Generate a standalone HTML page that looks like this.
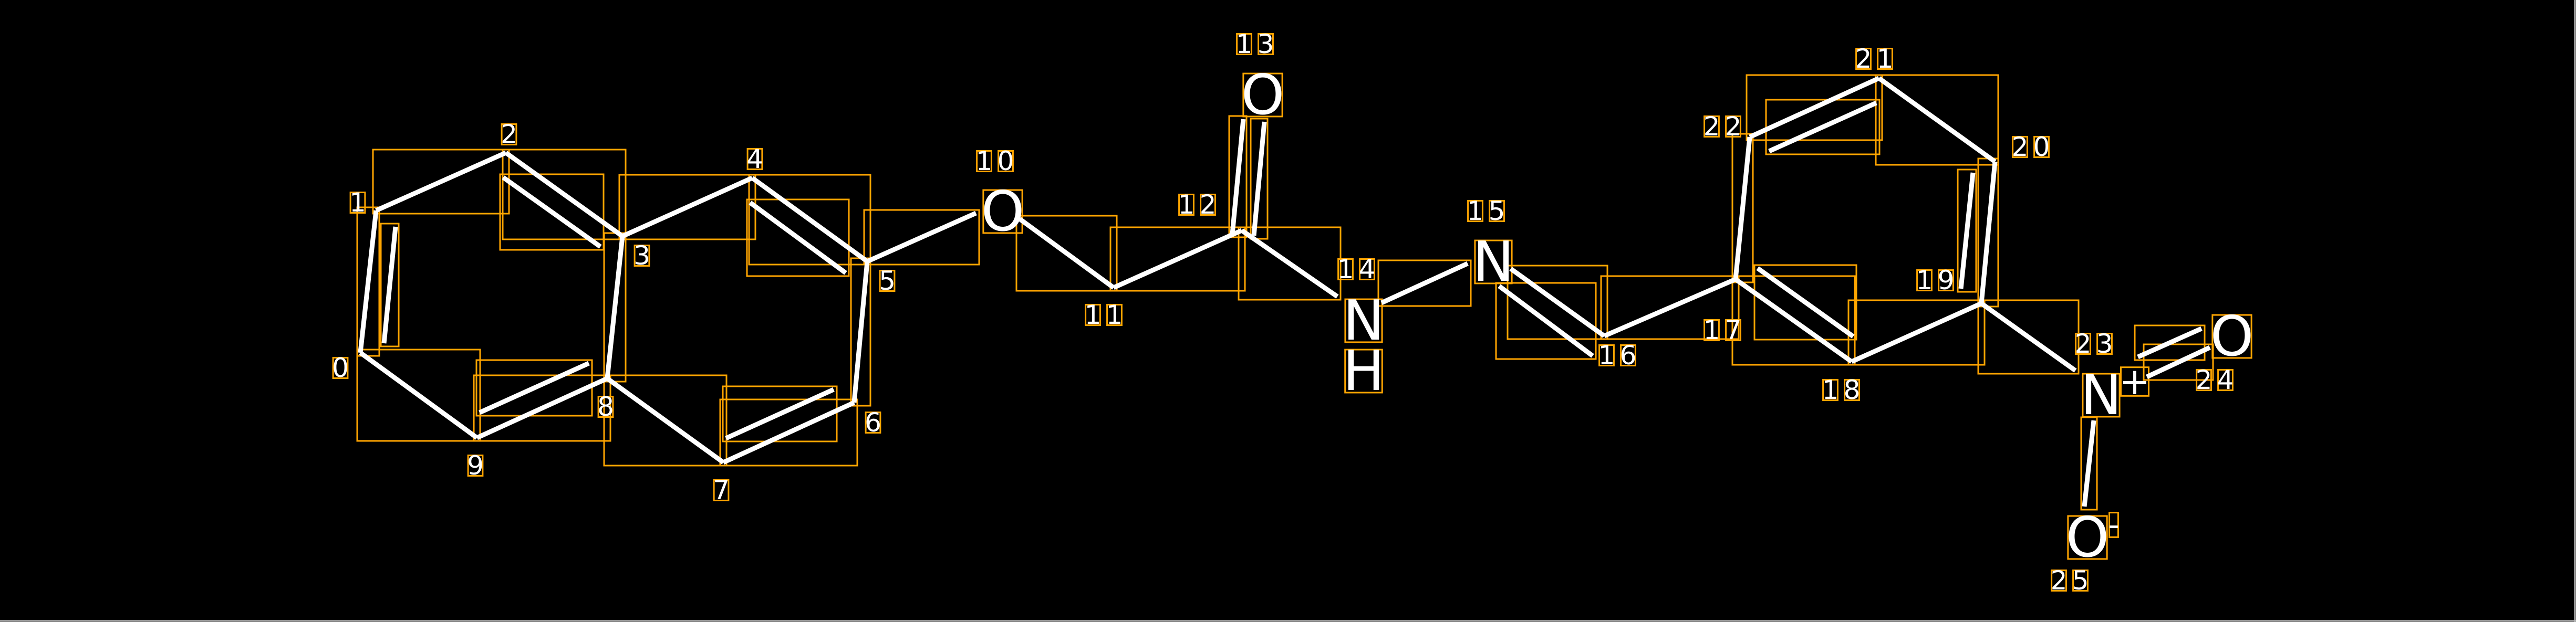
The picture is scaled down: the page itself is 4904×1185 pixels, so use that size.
<!DOCTYPE html>
<html><head><meta charset="utf-8"><style>
html,body{margin:0;padding:0;background:#000;}
svg{display:block;}
</style></head><body>
<svg id="s" width="4904" height="1185" viewBox="0 0 4904 1185" xmlns="http://www.w3.org/2000/svg">
<rect width="4904" height="1185" fill="#000"/>
<line x1="4902" y1="0" x2="4902" y2="1185" stroke="#bbb" stroke-width="3"/>
<line x1="0" y1="1183" x2="4904" y2="1183" stroke="#bbb" stroke-width="3"/>
<g id="boxes" fill="none" stroke="#FFA500" stroke-width="3"></g>
<g id="bonds" stroke="#fff" stroke-width="9" stroke-linecap="butt"></g>
<g id="labels" fill="#fff" font-family="DejaVu Sans, Liberation Sans, sans-serif"></g>
</svg>
<script>
var NS="http://www.w3.org/2000/svg";
var B=document.getElementById('bonds'),X=document.getElementById('boxes'),L=document.getElementById('labels');
var bonds=[
[686,672,716,401],[753,432,731,654],
[716,401,963,291],[963,291,1185,450],[958,338,1143,470],
[1185,450,1156,721],[1156,721,908,834],[1121,692,913,786],[908,834,686,672],
[1185,450,1432,339],[1432,339,1651,498],[1428,386,1610,520],
[1651,498,1626,767],[1626,767,1377,881],[1587,742,1382,835],[1377,881,1156,721],
[1651,498,1858,406],[1941,417,2120,548],[2120,548,2364,439],
[2367,227,2346,446],[2407,232,2387,449],
[2364,439,2546,565],[2630,577,2794,502],
[2876,512,3054,640],[2854,545,3032,678],
[3054,640,3304,532],
[3304,532,3331,261],[3331,261,3577,149],[3572,196,3368,288],
[3577,149,3798,308],[3798,308,3772,578],[3756,329,3733,550],
[3772,578,3525,689],[3525,689,3304,532],[3346,511,3528,641],
[3772,578,3951,706],
[4070,680,4191,626],[4087,718,4207,662],
[3986,801,3968,965]
];
bonds.forEach(function(b){
 var l=document.createElementNS(NS,'line');
 l.setAttribute('x1',b[0]);l.setAttribute('y1',b[1]);l.setAttribute('x2',b[2]);l.setAttribute('y2',b[3]);
 B.appendChild(l);
 var p=6,r=document.createElementNS(NS,'rect');
 var x=Math.min(b[0],b[2])-p,y=Math.min(b[1],b[3])-p;
 r.setAttribute('x',x);r.setAttribute('y',y);
 r.setAttribute('width',Math.abs(b[2]-b[0])+2*p);r.setAttribute('height',Math.abs(b[3]-b[1])+2*p);
 X.appendChild(r);
});
// labels: [text, cx, cy, size]
var labs=[
["0",648,701,50],["1",681,386,50],["2",969,256,50],["3",1222,487,50],["4",1437,303,50],
["5",1689,535,50],["6",1662,805,50],["7",1373,934,50],["8",1153,775,50],["9",905,887,50],
["10",1894,307,50],["11",2101,600,50],["12",2279,390,50],["13",2389,84,50],["14",2582,513,50],
["15",2829,402,50],["16",3079,677,50],["17",3279,629,50],["18",3505,743,50],["19",3684,534,50],
["20",3866,280,50],["21",3568,112,50],["22",3279,241,50],["23",3986,655,50],["24",4216,724,50],["25",3940,1106,50],
["O",1909,403,105],["O",2404,181,105],["N",2596,611,105],["H",2596,707,105],["N",2843,499,105],
["N",4000,753,105],["O",4249,641,105],["O",3974,1024,105],["+",4064,727,70],["-",4024,1000,60]
];
labs.forEach(function(t){
 var chars=t[0].split(''),sz=t[3],cw=sz*0.64,gap=sz*0.18;
 var total=chars.length*cw+(chars.length-1)*gap;
 chars.forEach(function(c,i){
  var cx=t[1]-total/2+cw/2+i*(cw+gap);
  var e=document.createElementNS(NS,'text');
  e.setAttribute('x',cx);e.setAttribute('y',t[2]);
  e.setAttribute('font-size',sz);e.setAttribute('text-anchor','middle');
  e.setAttribute('dominant-baseline','central');
  e.textContent=c;L.appendChild(e);
  var bb=e.getBBox();
  var r=document.createElementNS(NS,'rect');
  var ih=sz*0.78;
  r.setAttribute('x',bb.x+sz*0.04);r.setAttribute('y',t[2]-ih/2);
  r.setAttribute('width',Math.max(bb.width-sz*0.08,4));r.setAttribute('height',ih);
  X.appendChild(r);
 });
});
</script>
</body></html>
